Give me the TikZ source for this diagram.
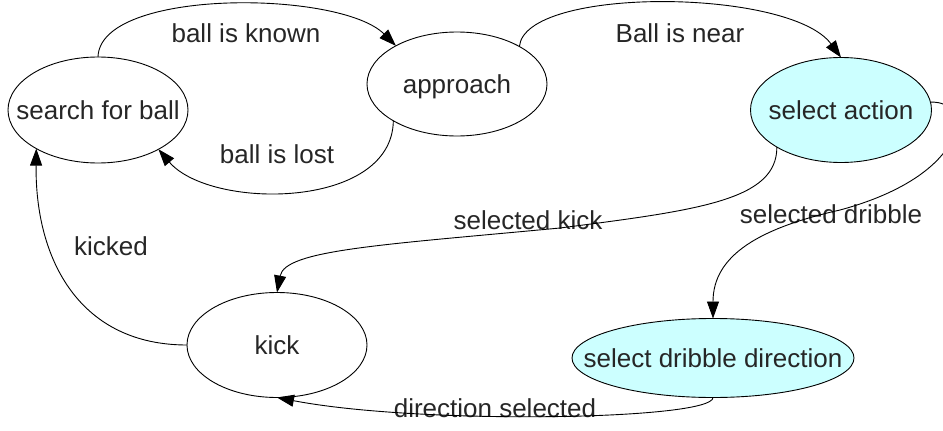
\documentclass[tikz,border=0pt]{standalone}
\usepackage{fontspec}
\setmainfont{Liberation Sans}
\usetikzlibrary{arrows.meta,shapes.geometric}
\definecolor{statecyan}{RGB}{204,255,255}
\begin{document}
\begin{tikzpicture}[x=1pt,y=-1pt,
  state/.style={ellipse,draw=black,line width=0.9pt,inner sep=0pt,outer sep=0pt},
  hl/.style={state,fill=statecyan},
  txt/.style={font=\fontsize{26}{30}\selectfont,text depth=0pt,inner sep=0pt,text=black!85},
  lbl/.style={font=\fontsize{26}{30}\selectfont,anchor=base,inner sep=0pt,text=black!85},
  conn/.style={draw=black,line width=0.9pt,-{Triangle[length=17pt,width=12pt]}}]
\useasboundingbox (0,0) rectangle (943,431);
\node[state,minimum width=180pt,minimum height=106pt,
  label={[txt]center:search for ball}] (search) at (98,110) {};
\node[state,minimum width=180pt,minimum height=104pt,
  label={[txt]center:approach}] (approach) at (457,84) {};
\node[hl,minimum width=181pt,minimum height=105pt,
  label={[txt]center:select action}] (select) at (841,110) {};
\node[state,minimum width=180pt,minimum height=105pt,
  label={[txt]center:kick}] (kick) at (277,345) {};
\node[hl,minimum width=282pt,minimum height=79pt,
  label={[txt]center:select dribble direction}] (dribble) at (713,358) {};

\node[lbl] (l1) at (246,42) {ball is known};
\node[lbl] (l2) at (277,163) {ball is lost};
\node[lbl] (l3) at (680,42) {Ball is near};
\node[lbl] (l4) at (528,229) {selected kick};
\node[lbl] (l5) at (831,223) {selected dribble};
\node[lbl] (l6) at (111,255) {kicked};
\node[lbl] (l7) at (495,417) {direction selected};

\draw[conn] (search.90) .. controls (100,-12) and (340,-10) .. (approach.148);
\draw[conn] (approach.210) .. controls (392,210) and (210,210) .. (search.-33);
\draw[conn] (approach.31) .. controls (525,-14) and (790,-12) .. (select.90);
\draw[conn] (select.210) .. controls (777,200) and (700,210) .. (560,228)
  .. controls (380,245) and (285,250) .. (kick.90);
\draw[conn] (select.5) .. controls (975,100) and (970,175) .. (840,210)
  .. controls (760,228) and (713,255) .. (dribble.90);
\draw[conn] (dribble.270) .. controls (713,420) and (420,425) .. (kick.270);
\draw[conn] (kick.180) .. controls (80,345) and (35,260) .. (search.212);
\end{tikzpicture}
\end{document}
